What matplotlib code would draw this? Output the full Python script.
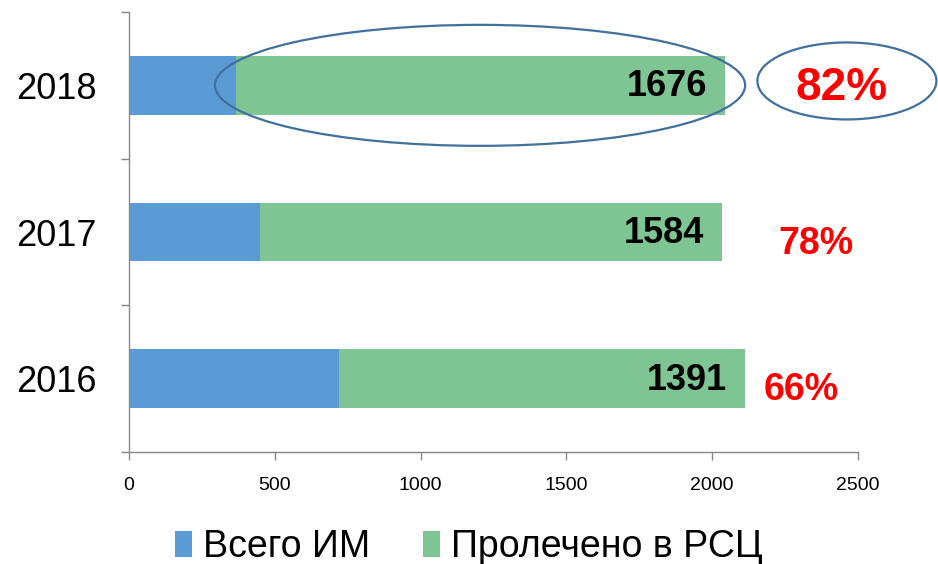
import matplotlib
matplotlib.use('Agg')
import matplotlib.pyplot as plt
from matplotlib.patches import Ellipse

plt.rcParams['font.family'] = ['Liberation Sans', 'DejaVu Sans']

years = ['2016', '2017', '2018']
total_mi = [2111, 2033, 2043]          # всего ИМ
treated = [1391, 1584, 1676]           # пролечено в РСЦ
share_labels = ['66%', '78%', '82%']

untreated = [t - p for t, p in zip(total_mi, treated)]

blue = '#5B9BD5'
green = '#7FC493'
ring = '#41709C'

fig = plt.figure(figsize=(9.38, 5.64), dpi=100)
ax = fig.add_axes([0.1375, 0.1986, 0.7772, 0.7801])

pos = range(len(years))
ax.barh(pos, untreated, height=0.4, color=blue, label='Всего ИМ')
ax.barh(pos, treated, left=untreated, height=0.4, color=green,
        label='Пролечено в РСЦ')

for i, (left, val) in enumerate(zip(untreated, treated)):
    ax.annotate(str(val), xy=(left + val, i), xytext=(-13, -1),
                textcoords='offset points', ha='right', va='center',
                fontsize=26, fontweight='bold', color='black')

# percentages to the right of each bar
pct_x = [2175, 2228, 2285]
pct_y = [-0.075, -0.08, -0.02]
pct_size = [27, 27, 33]
for i, lab in enumerate(share_labels):
    ax.text(pct_x[i], i + pct_y[i], lab, ha='left', va='center',
            fontsize=pct_size[i], fontweight='bold', color='#FF0000',
            clip_on=False)

# highlight rings around 2018
ax.add_patch(Ellipse((1204, 2.0), 1818, 0.825, fill=False, ec=ring,
                     lw=1.6, clip_on=False))
ax.add_patch(Ellipse((2462, 2.03), 614, 0.525, fill=False, ec=ring,
                     lw=1.6, clip_on=False))

ax.set_xlim(0, 2500)
ax.set_ylim(-0.5, 2.5)
ax.set_xticks([0, 500, 1000, 1500, 2000, 2500])
ax.set_yticks(list(pos))
ax.set_yticklabels(years, fontsize=26)
ax.set_yticks([-0.5, 0.5, 1.5, 2.5], minor=True)
ax.tick_params(axis='y', which='major', length=0, pad=23)
ax.tick_params(axis='y', which='minor', length=6, color='#868686', width=1)
ax.tick_params(axis='x', length=6, color='#868686', width=1,
               labelsize=14, pad=12)

for s in ['top', 'right']:
    ax.spines[s].set_visible(False)
for s in ['left', 'bottom']:
    ax.spines[s].set_color('#868686')
    ax.spines[s].set_linewidth(1)

fig.legend(loc='lower center', bbox_to_anchor=(0.5, -0.062), ncol=2,
           frameon=False, fontsize=27, handlelength=0.45, handleheight=0.7,
           handletextpad=0.3, columnspacing=1.4)

fig.savefig('out.png', dpi=100)
